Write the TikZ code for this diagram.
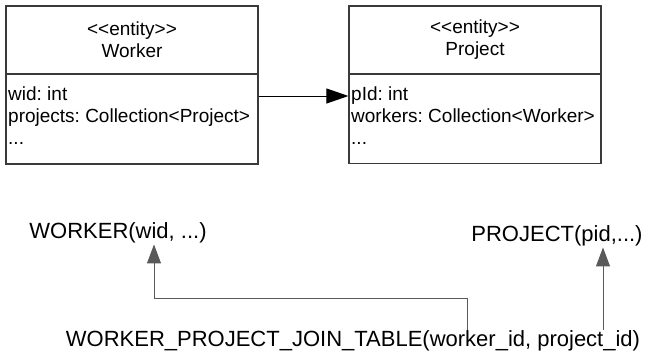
\documentclass[tikz,border=0pt]{standalone}
\usepackage{fontspec}
\setmainfont{Liberation Sans}
\frenchspacing
\usetikzlibrary{arrows.meta}
\definecolor{boxline}{HTML}{3A3A3A}
\definecolor{connline}{HTML}{5A5A5A}
\tikzset{
  hdr/.style={draw=boxline, line width=1.2pt, minimum width=252pt, minimum height=68pt, inner sep=0pt, align=center, font=\fontsize{19}{22}\selectfont},
  bdy/.style={draw=boxline, line width=1.2pt, minimum width=252pt, minimum height=90pt, inner sep=0pt},
  attrs/.style={anchor=north west, inner sep=0pt, align=left, font=\fontsize{19}{22}\selectfont},
  rel/.style={inner sep=1pt, font=\fontsize{22}{26}\selectfont},
  conn/.style={draw=connline, line width=1pt, -{Triangle[length=19pt,width=14pt]}},
  assoc/.style={draw=black, line width=1pt, -{Triangle[length=22pt,width=15pt]}}
}
\begin{document}
\begin{tikzpicture}[x=1pt,y=-1pt]
\useasboundingbox (0,0) rectangle (651,354);
% Worker class
\node[hdr] (wh) at (132,40) {{<}{<}entity{>}{>}\\Worker};
\node[bdy] (wb) at (132,119) {};
\node[attrs] (wa) at (8,87) {wid: int\\projects: Collection<Project>\\...};
% Project class
\node[hdr] (ph) at (475,40) {{<}{<}entity{>}{>}\\Project};
\node[bdy] (pb) at (475,118.5) {};
\node[attrs] (pa) at (351,87) {pId: int\\workers: Collection<Worker>\\...};
% association
\draw[assoc] (wb.east |- 0,96) -- (pb.west |- 0,96);
% relational tables
\node[rel] (W) at (118,233) {WORKER(wid, ...)};
\node[rel] (P) at (557,236) {PROJECT(pid,...)};
\node[rel] (J) at (353,341) {WORKER\_PROJECT\_JOIN\_TABLE(worker\_id, project\_id)};
\draw[conn] (J.north -| 467,0) -- (467,298) -| (W.south -| 154,0);
\draw[conn] (J.north -| 603,0) -- (P.south -| 603,0);
\end{tikzpicture}
\end{document}
